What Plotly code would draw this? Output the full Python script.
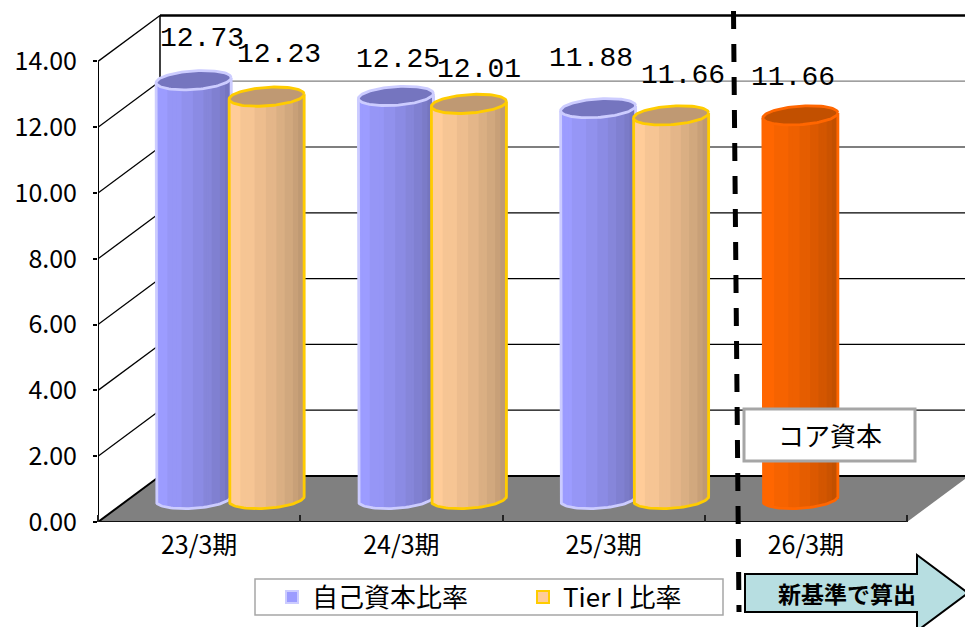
import math
import plotly.graph_objects as go

categories = ["23/3期", "24/3期", "25/3期", "26/3期"]
equity_ratio = [12.73, 12.25, 11.88]
tier1_ratio = [12.23, 12.01, 11.66]
core_ratio = [11.66]
y_ticks = [0, 2, 4, 6, 8, 10, 12, 14]

W, H = 965, 627
AX_L, AX_B = 98, 522            # pixel position of the front-left origin
U_X = 202.25                    # pixels per category
U_Y = 32.9                      # pixels per y unit
DEPTH_X, DEPTH_Y = 62 / U_X, 46 / U_Y
XMIN = -0.5
XMAX = XMIN + (W - AX_L) / U_X
YMAX = AX_B / U_Y
RX, RY, TILT = 37.5 / U_X, 9.3 / U_Y, 2.5 / U_Y
SERIES_SHIFT = 36.5 / U_X
OVERLAP = 1.0 / U_X

BANDS = [.15, .19, .15, .14, .11, .11, .07, .08]
BLUE = ((0x9C, 0x9C, 0xFF), (0x75, 0x75, 0xBF), "#CCCCFF")
TAN = ((0xFF, 0xCC, 0x99), (0xBF, 0x99, 0x73), "#FFCC00")
RED = ((0xFF, 0x66, 0x00), (0xC2, 0x50, 0x00), "#FF6600")
CJK = "Noto Sans CJK JP"


def px(x):
    return x / W


def py(y):
    return 1 - y / H


def lerp_color(c0, c1, f):
    return "rgb(%d,%d,%d)" % tuple(round(a + (b - a) * f) for a, b in zip(c0, c1))


fig = go.Figure()
z = 1


def add_cylinder(center, value, style):
    global z
    light, dark, edge = style
    xs, widths, bases, colors = [], [], [], []
    pos = -1.0
    for i, frac in enumerate(BANDS):
        for _ in range(3):
            w = 2 * frac / 3
            t = pos + w / 2
            xs.append(center + t * RX + OVERLAP / 2)
            widths.append(w * RX + OVERLAP)
            bases.append(DEPTH_Y / 2 - RY * math.sqrt(max(0, 1 - t * t)) + TILT * t)
            colors.append(lerp_color(light, dark, i / (len(BANDS) - 1)))
            pos += w
    fig.add_trace(go.Bar(x=xs, y=[value] * len(xs), base=bases, width=widths,
                         marker=dict(color=colors, line=dict(width=0)),
                         showlegend=False, hoverinfo="skip", zorder=z))
    z += 1
    n = 48
    arc_x = [center - RX]
    arc_y = [value + DEPTH_Y / 2 - TILT]
    for k in range(n + 1):
        t = -math.cos(math.pi * k / n)
        arc_x.append(center + t * RX)
        arc_y.append(DEPTH_Y / 2 - RY * math.sqrt(max(0, 1 - t * t)) + TILT * t)
    arc_x.append(center + RX)
    arc_y.append(value + DEPTH_Y / 2 + TILT)
    fig.add_trace(go.Scatter(x=arc_x, y=arc_y, mode="lines", line=dict(color=edge, width=2.8),
                             showlegend=False, hoverinfo="skip", zorder=z))
    z += 1
    cap_x, cap_y = [], []
    for k in range(97):
        a = 2 * math.pi * k / 96
        cap_x.append(center + RX * math.cos(a))
        cap_y.append(value + DEPTH_Y / 2 + RY * math.sin(a) + TILT * math.cos(a))
    fig.add_trace(go.Scatter(x=cap_x, y=cap_y, mode="lines", fill="toself",
                             fillcolor=lerp_color(dark, dark, 0),
                             line=dict(color=edge, width=2.8),
                             showlegend=False, hoverinfo="skip", zorder=z))
    z += 1


annotations = []
label_font = dict(family="Liberation Mono", size=28, color="black")
label_shift = [(8, 42), (12, 42), (2, 36), (10, 34), (-7, 50), (12, 40), (-7, 38)]
placed = []
for i in range(3):
    placed.append((i - SERIES_SHIFT + DEPTH_X / 2, equity_ratio[i], BLUE))
    placed.append((i + SERIES_SHIFT + DEPTH_X / 2, tier1_ratio[i], TAN))
placed.append((3 - SERIES_SHIFT + DEPTH_X / 2, core_ratio[0], RED))

for (cx, val, style), (sx, sy) in zip(placed, label_shift):
    add_cylinder(cx, val, style)
    annotations.append(dict(x=cx, y=val + DEPTH_Y / 2, xref="x", yref="y",
                            text="%.2f" % val, showarrow=False, font=label_font,
                            xanchor="center", yanchor="middle", xshift=sx, yshift=sy))

# legend-only entries
for name, style in (("自己資本比率", BLUE), ("Tier I 比率", TAN)):
    fig.add_trace(go.Scatter(x=[None], y=[None], mode="markers", name=name,
                             marker=dict(symbol="square", size=13,
                                         color=lerp_color(style[0], style[0], 0),
                                         line=dict(color=style[2], width=2.5))))

shapes = []
# floor
x0, x1 = XMIN, XMIN + 4
shapes.append(dict(type="path", xref="x", yref="y", layer="below", line=dict(width=0),
                   fillcolor="#808080",
                   path="M %f 0 L %f %f L %f %f L %f 0 Z" % (
                       x0, x0 + DEPTH_X, DEPTH_Y, x1 + DEPTH_X, DEPTH_Y, x1)))
# walls
for v in y_ticks:
    grid_w = 2.5 if v == 14 else (2 if v == 0 else 1.2)
    grid_c = "#808080" if v == 12 else "black"
    shapes.append(dict(type="line", xref="x", yref="y", layer="below",
                       x0=x0 + DEPTH_X, x1=XMAX, y0=v + DEPTH_Y, y1=v + DEPTH_Y,
                       line=dict(color=grid_c, width=grid_w)))
    shapes.append(dict(type="line", xref="x", yref="y", layer="below",
                       x0=x0, x1=x0 + DEPTH_X, y0=v, y1=v + DEPTH_Y,
                       line=dict(color="black", width=2 if v == 0 else 1.3)))
shapes.append(dict(type="line", xref="x", yref="y", layer="below",
                   x0=x0 + DEPTH_X, x1=x0 + DEPTH_X, y0=DEPTH_Y, y1=14 + DEPTH_Y,
                   line=dict(color="black", width=1.5)))
shapes.append(dict(type="line", xref="x", yref="y", layer="below",
                   x0=x0, x1=x0, y0=0, y1=14, line=dict(color="black", width=2)))
shapes.append(dict(type="line", xref="x", yref="y", layer="below",
                   x0=x0, x1=x1, y0=0, y1=0, line=dict(color="#111111", width=2.2)))
# divider
shapes.append(dict(type="line", xref="paper", yref="paper",
                   x0=px(733.5), x1=px(739), y0=py(11), y1=py(612),
                   line=dict(color="black", width=5, dash="18px,15px")))
# note box
shapes.append(dict(type="rect", xref="paper", yref="paper",
                   x0=px(744), x1=px(915), y0=py(409), y1=py(461),
                   fillcolor="white", line=dict(color="#A6A6A6", width=3)))
# legend frame
shapes.append(dict(type="rect", xref="paper", yref="paper",
                   x0=px(255), x1=px(723), y0=py(579), y1=py(615),
                   fillcolor="white", line=dict(color="#A6A6A6", width=1.5)))
# arrow
arrow = [(745, 574), (917, 574), (917, 555), (968, 593), (917, 631), (917, 612), (745, 612)]
shapes.append(dict(type="path", xref="paper", yref="paper",
                   fillcolor="#B7DEE1", line=dict(color="black", width=2),
                   path="M " + " L ".join("%f %f" % (px(a), py(b)) for a, b in arrow) + " Z"))

annotations.append(dict(x=px(830), y=py(434), xref="paper", yref="paper", text="コア資本",
                        xanchor="center", yanchor="middle", showarrow=False,
                        font=dict(family=CJK, size=26, color="black")))
annotations.append(dict(x=px(847), y=py(593), xref="paper", yref="paper", text="<b>新基準で算出</b>",
                        xanchor="center", yanchor="middle", showarrow=False,
                        font=dict(family=CJK, size=23, color="black")))

fig.update_layout(
    width=W, height=H, autosize=False,
    margin=dict(l=0, r=0, t=0, b=0, autoexpand=False),
    paper_bgcolor="white", plot_bgcolor="white",
    barmode="overlay",
    shapes=shapes, annotations=annotations,
    font=dict(family=CJK, color="black"),
    xaxis=dict(domain=[AX_L / W, 1], range=[XMIN, XMAX], showgrid=False, zeroline=False,
               showline=False, tickmode="array", tickvals=[0, 1, 2, 3], ticktext=categories,
               ticks="", tickfont=dict(family=CJK, size=25), automargin=False,
               ticklabelstandoff=6,
               minor=dict(tickmode="array", tickvals=[XMIN + k for k in range(5)], ticks="inside",
                          ticklen=7, tickwidth=1.5, tickcolor="#222222", showgrid=False)),
    yaxis=dict(domain=[1 - AX_B / H, 1], range=[0, YMAX], showgrid=False, zeroline=False,
               showline=False, tickmode="array", tickvals=y_ticks, tickformat=".2f",
               ticks="outside", ticklen=4, tickwidth=1.5, tickcolor="black",
               ticklabelstandoff=11, automargin=False,
               tickfont=dict(family=CJK, size=25)),
    legend=dict(orientation="h", x=px(272), y=py(597), xanchor="left", yanchor="middle",
                bgcolor="rgba(0,0,0,0)", borderwidth=0,
                entrywidth=206, entrywidthmode="pixels", itemsizing="constant",
                font=dict(family=CJK, size=26, color="black")),
)

fig.write_html("out.html", post_script="document.body.style.margin='0';",
               config=dict(displayModeBar=False))
